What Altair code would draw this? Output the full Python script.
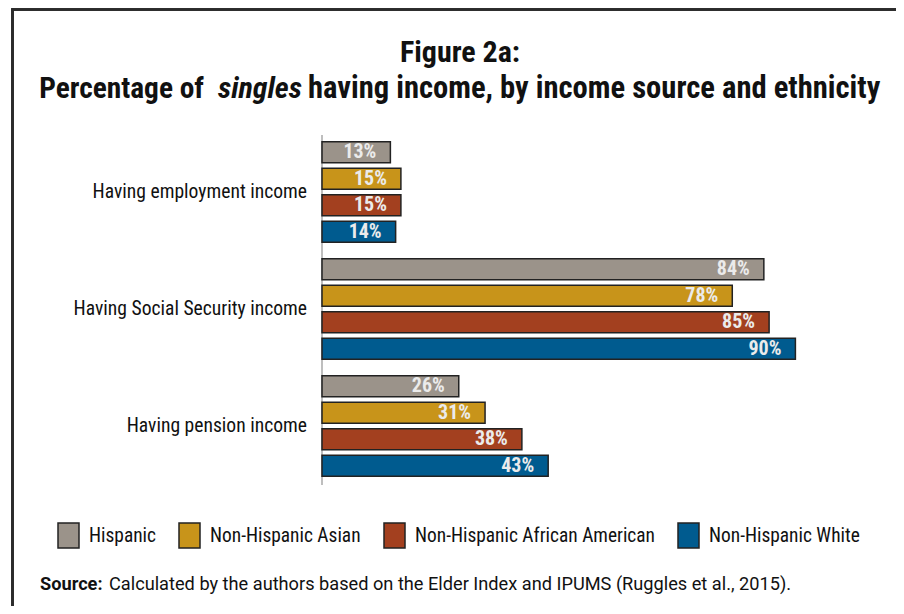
import altair as alt
import pandas as pd

# ---- data ----
sources = ["Having employment income", "Having Social Security income", "Having pension income"]
ethnicities = ["Hispanic", "Non-Hispanic Asian", "Non-Hispanic African American", "Non-Hispanic White"]
hispanic = [13, 84, 26]
asian = [15, 78, 31]
african_american = [15, 85, 38]
white = [14, 90, 43]
colors = ["#9b938a", "#c8941a", "#a3401f", "#005b8f"]

series = [hispanic, asian, african_american, white]
rows = []
for eth, vals in zip(ethnicities, series):
    for src, v in zip(sources, vals):
        rows.append({"source": src, "eth": eth, "value": v, "label": f"{v}%"})
df = pd.DataFrame(rows)
src_df = pd.DataFrame({"source": sources})

FONT = "'Roboto Condensed', 'DejaVu Sans Condensed', 'Liberation Sans Narrow', Roboto, sans-serif"
FONT2 = "Roboto, sans-serif"
W, H = 888, 598

xscale = alt.Scale(domain=[0, 100], range=[314, 840])
yscale = alt.Scale(domain=sources, range=[131, 471], paddingInner=0.094, paddingOuter=0)
yoff = alt.YOffset("eth:N", sort=ethnicities, scale=alt.Scale(paddingInner=0.2, paddingOuter=0.1))

base = alt.Chart(df)

bars = base.mark_bar(stroke="#222222", strokeWidth=1.5).encode(
    x=alt.X("value:Q", scale=xscale, axis=None),
    y=alt.Y("source:N", scale=yscale, axis=None, sort=sources),
    yOffset=yoff,
    fill=alt.Fill("eth:N", sort=ethnicities,
                  scale=alt.Scale(domain=ethnicities, range=colors),
                  legend=alt.Legend(
                      title=None, orient="none", direction="horizontal",
                      legendX=47, legendY=514, padding=0,
                      symbolType="M-0.84,-1H0.84V1H-0.84Z", symbolSize=625,
                      symbolStrokeColor="#222222", symbolStrokeWidth=1.5,
                      symbolOpacity=1,
                      labelFont=FONT, labelFontSize=19.4, labelColor="#111111",
                      labelOffset=7, columnPadding=20, labelLimit=400,
                  )),
)

bar_labels = base.mark_text(
    align="right", baseline="middle", dx=-14, font=FONT, fontSize=20,
    fontWeight="bold", color="#ebebeb",
).encode(
    x=alt.X("value:Q", scale=xscale, axis=None),
    y=alt.Y("source:N", scale=yscale, axis=None, sort=sources),
    yOffset=yoff,
    text="label:N",
)

cat_labels = alt.Chart(src_df).mark_text(
    align="right", baseline="middle", font=FONT, fontSize=19.6, color="#111111",
).encode(
    x=alt.value(299),
    y=alt.Y("source:N", scale=yscale, axis=None, sort=sources),
    text="source:N",
)

axis_line = alt.Chart(src_df).mark_rule(color="#bdbdbd", strokeWidth=1.5).encode(
    x=alt.value(314), y=alt.value(127), y2=alt.value(477)
)

frame_top = alt.Chart(src_df).mark_rule(color="#2b2b2b", strokeWidth=2.5).encode(
    x=alt.value(3.5), x2=alt.value(W), y=alt.value(1.5)
)
frame_left = alt.Chart(src_df).mark_rule(color="#2b2b2b", strokeWidth=2.5).encode(
    x=alt.value(4.5), y=alt.value(0.5), y2=alt.value(H)
)

def txt(s, x, y, size, align="left", weight="normal", style="normal", font=FONT):
    return alt.Chart(pd.DataFrame({"t": [s]})).mark_text(
        align=align, baseline="alphabetic", font=font, fontSize=size,
        fontWeight=weight, fontStyle=style, color="#111111",
    ).encode(x=alt.value(x), y=alt.value(y), text="t:N")

title1 = txt("Figure 2a:", 452, 54, 30, align="center", weight="bold")
t2a = txt("Percentage of", 196, 90, 29.4, align="right", weight="bold")
t2b = txt("singles", 210, 90, 30, align="left", weight="bold", style="italic")
t2c = txt("having income, by income source and ethnicity", 300, 90, 30.6, align="left", weight="bold")
src1 = txt("Source:", 32, 582, 18.2, weight="bold", font=FONT2)
src2 = txt("Calculated by the authors based on the Elder Index and IPUMS (Ruggles et al., 2015).", 101, 582, 18.2, font=FONT2)

chart = alt.layer(
    frame_top, frame_left, axis_line, bars, bar_labels, cat_labels,
    title1, t2a, t2b, t2c, src1, src2,
).properties(
    width=W, height=H, padding=0, autosize=alt.AutoSizeParams(type="none"),
    background="white",
).configure_view(stroke=None)

chart.save("out.html", embed_options={"renderer": "svg", "actions": False})
